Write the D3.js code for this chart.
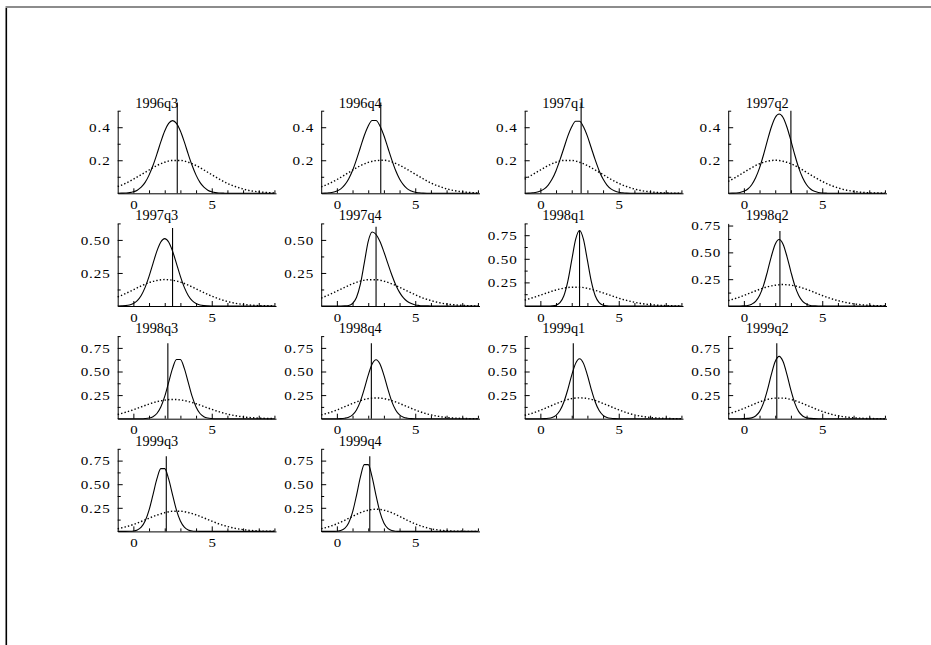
<!DOCTYPE html>
<html>
<head>
<meta charset="utf-8">
<script src="https://cdn.jsdelivr.net/npm/d3@7"></script>
<style>
html,body{margin:0;padding:0;background:#fff;}
svg{display:block;}
text{font-family:"Liberation Serif","Times New Roman",serif;fill:#000;}
</style>
</head>
<body>
<svg id="chart" width="931" height="645"></svg>
<script>
// ---------------- data ----------------
const quarters = ["1996q3","1996q4","1997q1","1997q2","1997q3","1997q4","1998q1","1998q2","1998q3","1998q4","1999q1","1999q2","1999q3","1999q4"];
const actualValue = [2.8, 2.8, 2.6, 3.0, 2.5, 2.5, 2.5, 2.3, 2.2, 2.2, 2.1, 2.1, 2.1, 2.1];
const markerTop = [0.55, 0.55, 0.55, 0.50, 0.59, 0.60, 0.80, 0.70, 0.80, 0.80, 0.80, 0.80, 0.795, 0.795];
const yAxisMax = [0.5, 0.5, 0.5, 0.5, 0.625, 0.625, 0.875, 0.77, 0.875, 0.875, 0.875, 0.875, 0.875, 0.875];

const xTickLabels = ["0", "5"];
const yTickLabelsSmall = ["0.2", "0.4"];
const yTickLabelsLarge = ["0.25", "0.50", "0.75"];

const solidGrid = [-1,-0.75,-0.5,-0.25,0,0.25,0.5,0.75,1,1.25,1.5,1.75,2,2.25,2.5,2.75,3,3.25,3.5,3.75,4,4.25,4.5,4.75,5,5.25,5.5,5.75,6,6.25,6.5,6.75,7,7.25,7.5,7.75,8,8.25,8.5,8.75,9];
const dottedGrid = [-1,-0.5,0,0.5,1,1.5,2,2.5,3,3.5,4,4.5,5,5.5,6,6.5,7,7.5,8,8.5,9];

// solid densities (values at solidGrid)
const solid1996q3 = [0,0.001,0.002,0.004,0.009,0.019,0.037,0.066,0.110,0.168,0.237,0.311,0.377,0.423,0.44,0.423,0.377,0.311,0.237,0.168,0.110,0.066,0.037,0.019,0.009,0.004,0.002,0.001,0,0,0,0,0,0,0,0,0,0,0,0,0];
const solid1996q4 = [0,0.001,0.003,0.006,0.014,0.027,0.051,0.087,0.138,0.204,0.277,0.350,0.408,0.441,0.441,0.408,0.350,0.277,0.204,0.138,0.087,0.051,0.027,0.014,0.006,0.003,0.001,0,0,0,0,0,0,0,0,0,0,0,0,0,0];
const solid1997q1 = [0,0.001,0.003,0.006,0.014,0.027,0.050,0.086,0.137,0.202,0.274,0.346,0.403,0.436,0.436,0.403,0.346,0.274,0.202,0.137,0.086,0.050,0.027,0.014,0.006,0.003,0.001,0,0,0,0,0,0,0,0,0,0,0,0,0,0];
const solid1997q2 = [0,0.001,0.002,0.005,0.012,0.026,0.052,0.094,0.154,0.232,0.319,0.400,0.459,0.48,0.459,0.400,0.319,0.232,0.154,0.094,0.052,0.026,0.012,0.005,0.002,0.001,0,0,0,0,0,0,0,0,0,0,0,0,0,0,0];
const solid1997q3 = [0,0.001,0.003,0.008,0.019,0.041,0.080,0.141,0.224,0.321,0.415,0.484,0.51,0.484,0.415,0.321,0.224,0.141,0.080,0.041,0.019,0.008,0.003,0.001,0,0,0,0,0,0,0,0,0,0,0,0,0,0,0,0,0];
const solid1997q4 = [0,0,0,0,0,0,0.001,0.004,0.019,0.064,0.165,0.326,0.489,0.56,0.541,0.488,0.410,0.322,0.236,0.161,0.103,0.061,0.034,0.018,0.008,0.004,0.002,0.001,0,0,0,0,0,0,0,0,0,0,0,0,0];
const solid1998q1 = [0,0,0,0,0,0,0,0.002,0.009,0.035,0.108,0.260,0.485,0.706,0.80,0.706,0.485,0.260,0.108,0.035,0.009,0.002,0,0,0,0,0,0,0,0,0,0,0,0,0,0,0,0,0,0,0];
const solid1998q2 = [0,0,0,0,0.002,0.005,0.017,0.043,0.098,0.190,0.319,0.461,0.576,0.62,0.576,0.461,0.319,0.190,0.098,0.043,0.017,0.005,0.002,0,0,0,0,0,0,0,0,0,0,0,0,0,0,0,0,0,0];
const solid1998q3 = [0,0,0,0,0,0,0,0.002,0.007,0.021,0.055,0.123,0.236,0.385,0.533,0.627,0.627,0.533,0.385,0.236,0.123,0.055,0.021,0.007,0.002,0,0,0,0,0,0,0,0,0,0,0,0,0,0,0,0];
const solid1998q4 = [0,0,0,0,0,0.001,0.005,0.015,0.040,0.093,0.184,0.315,0.461,0.579,0.625,0.579,0.461,0.315,0.184,0.093,0.040,0.015,0.005,0.001,0,0,0,0,0,0,0,0,0,0,0,0,0,0,0,0,0];
const solid1999q1 = [0,0,0,0,0,0.001,0.004,0.013,0.036,0.086,0.177,0.309,0.461,0.586,0.635,0.586,0.461,0.309,0.177,0.086,0.036,0.013,0.004,0.001,0,0,0,0,0,0,0,0,0,0,0,0,0,0,0,0,0];
const solid1999q2 = [0,0,0,0,0.001,0.003,0.009,0.029,0.075,0.165,0.302,0.467,0.605,0.66,0.605,0.467,0.302,0.165,0.075,0.029,0.009,0.003,0.001,0,0,0,0,0,0,0,0,0,0,0,0,0,0,0,0,0,0];
const solid1999q3 = [0,0,0,0.001,0.004,0.015,0.045,0.110,0.226,0.388,0.556,0.665,0.665,0.556,0.388,0.226,0.110,0.045,0.015,0.004,0.001,0,0,0,0,0,0,0,0,0,0,0,0,0,0,0,0,0,0,0,0];
const solid1999q4 = [0,0,0,0,0.002,0.009,0.032,0.089,0.204,0.380,0.575,0.707,0.707,0.575,0.380,0.204,0.089,0.032,0.009,0.002,0,0,0,0,0,0,0,0,0,0,0,0,0,0,0,0,0,0,0,0,0];

// dotted densities (values at dottedGrid)
const dotted1996q3 = [0.041,0.060,0.085,0.113,0.141,0.168,0.188,0.199,0.199,0.188,0.168,0.141,0.113,0.085,0.060,0.041,0.026,0.015,0.009,0.005,0.002];
const dotted1996q4 = [0.039,0.058,0.083,0.111,0.140,0.167,0.187,0.198,0.200,0.190,0.170,0.144,0.116,0.088,0.062,0.043,0.027,0.016,0.009,0.005,0.002];
const dotted1997q1 = [0.085,0.113,0.141,0.168,0.188,0.199,0.199,0.188,0.168,0.141,0.113,0.085,0.060,0.041,0.026,0.015,0.009,0.005,0.002,0.001,0.001];
const dotted1997q2 = [0.072,0.098,0.127,0.155,0.179,0.194,0.200,0.194,0.179,0.155,0.127,0.098,0.072,0.050,0.033,0.020,0.012,0.006,0.003,0.002,0.001];
const dotted1997q3 = [0.068,0.094,0.123,0.152,0.177,0.193,0.200,0.195,0.181,0.158,0.130,0.101,0.075,0.052,0.034,0.021,0.012,0.007,0.003,0.002,0.001];
const dotted1997q4 = [0.060,0.085,0.113,0.141,0.168,0.188,0.199,0.199,0.188,0.168,0.141,0.113,0.085,0.060,0.041,0.026,0.015,0.009,0.005,0.002,0.001];
const dotted1998q1 = [0.062,0.087,0.115,0.143,0.170,0.189,0.199,0.199,0.187,0.166,0.139,0.111,0.083,0.059,0.040,0.025,0.015,0.008,0.004,0.002,0.001];
const dotted1998q2 = [0.050,0.072,0.098,0.127,0.155,0.179,0.194,0.200,0.194,0.179,0.155,0.127,0.098,0.072,0.050,0.033,0.020,0.012,0.006,0.003,0.002];
const dotted1998q3 = [0.045,0.068,0.095,0.125,0.155,0.180,0.197,0.204,0.199,0.183,0.158,0.129,0.099,0.072,0.049,0.032,0.019,0.011,0.006,0.003,0.001];
const dotted1998q4 = [0.040,0.063,0.093,0.127,0.161,0.192,0.213,0.220,0.213,0.192,0.161,0.127,0.093,0.063,0.040,0.024,0.013,0.007,0.003,0.001,0.001];
const dotted1999q1 = [0.036,0.059,0.089,0.124,0.159,0.191,0.213,0.221,0.214,0.193,0.162,0.128,0.094,0.064,0.040,0.024,0.013,0.007,0.003,0.001,0.001];
const dotted1999q2 = [0.051,0.077,0.109,0.144,0.177,0.204,0.218,0.218,0.204,0.177,0.144,0.109,0.077,0.051,0.031,0.018,0.010,0.005,0.002,0.001,0.000];
const dotted1999q3 = [0.028,0.048,0.073,0.105,0.140,0.172,0.198,0.213,0.214,0.200,0.175,0.143,0.109,0.077,0.052,0.032,0.019,0.010,0.005,0.002,0.001];
const dotted1999q4 = [0.028,0.050,0.080,0.118,0.159,0.198,0.225,0.235,0.225,0.198,0.159,0.118,0.080,0.050,0.028,0.015,0.007,0.003,0.001,0.000,0.000];

const solidSeries = [solid1996q3,solid1996q4,solid1997q1,solid1997q2,solid1997q3,solid1997q4,solid1998q1,solid1998q2,solid1998q3,solid1998q4,solid1999q1,solid1999q2,solid1999q3,solid1999q4];
const dottedSeries = [dotted1996q3,dotted1996q4,dotted1997q1,dotted1997q2,dotted1997q3,dotted1997q4,dotted1998q1,dotted1998q2,dotted1998q3,dotted1998q4,dotted1999q1,dotted1999q2,dotted1999q3,dotted1999q4];

// ---------------- layout ----------------
const W = 931, H = 645;
const plotW = 158.3, plotH = 82.6;
const colStep = 203.5, rowStep = 112.7;
const left0 = 117.7, base0 = 193.3;
const xDomain = [-1, 9.1];
const FONT = 13.5;

const svg = d3.select("#chart");
svg.append("rect").attr("width", W).attr("height", H).attr("fill", "#fff");
// window-like frame (top grey, left black)
svg.append("rect").attr("x", 5.5).attr("y", 6).attr("width", W - 5.5).attr("height", 2).attr("fill", "#8c8c8c");
svg.append("rect").attr("x", 5.5).attr("y", 8).attr("width", 1.6).attr("height", H - 8).attr("fill", "#000");

function stretch(sel, sx) {
  sel.each(function () {
    const t = d3.select(this);
    const x = +t.attr("x") || 0, y = +t.attr("y") || 0;
    t.attr("x", 0).attr("y", 0).attr("transform", `translate(${x},${y}) scale(${sx},1)`);
  });
}

quarters.forEach((q, i) => {
  const c = i % 4, r = Math.floor(i / 4);
  const g = svg.append("g").attr("transform", `translate(${left0 + c * colStep},${base0 + r * rowStep - plotH})`);
  const x = d3.scaleLinear().domain(xDomain).range([0, plotW]);
  const y = d3.scaleLinear().domain([0, yAxisMax[i]]).range([plotH, 0]);

  const small = yAxisMax[i] <= 0.5;
  const yLabels = (small ? yTickLabelsSmall : yTickLabelsLarge).filter(s => +s <= yAxisMax[i] + 1e-9);
  const yMinor = (small ? [0.1, 0.3, 0.5] : [0.125, 0.375, 0.625, 0.875]).filter(v => v <= yAxisMax[i] + 1e-9);

  // x axis
  const xMajor = g.append("g").attr("transform", `translate(0,${plotH})`)
    .call(d3.axisBottom(x).tickValues(xTickLabels.map(Number)).tickFormat((d, k) => xTickLabels[k])
      .tickSize(-5).tickSizeOuter(0).tickPadding(6));
  xMajor.selectAll("text").attr("font-size", FONT).attr("font-family", null).call(stretch, 1.1);
  g.append("g").attr("transform", `translate(0,${plotH})`)
    .call(d3.axisBottom(x).tickValues([1, 2, 3, 4, 6, 7, 8, 9]).tickFormat("").tickSize(-3).tickSizeOuter(0))
    .select(".domain").remove();

  // y axis
  const yMajor = g.append("g")
    .call(d3.axisLeft(y).tickValues(yLabels.map(Number)).tickFormat((d, k) => yLabels[k])
      .tickSize(-5).tickSizeOuter(0).tickPadding(7));
  yMajor.selectAll("text").attr("font-size", FONT).attr("font-family", null).attr("letter-spacing", 0.8).call(stretch, 1.12);
  g.append("g")
    .call(d3.axisLeft(y).tickValues(yMinor).tickFormat("").tickSize(-3).tickSizeOuter(0))
    .select(".domain").remove();

  g.selectAll(".domain").attr("stroke", "#000").attr("stroke-width", 1);
  g.selectAll(".tick line").attr("stroke", "#000").attr("stroke-width", 1);

  // curves
  const line = d3.line().x(d => x(d[0])).y(d => y(d[1])).curve(d3.curveMonotoneX);
  g.append("path")
    .datum(dottedGrid.map((v, k) => [v, dottedSeries[i][k]]))
    .attr("d", line).attr("fill", "none").attr("stroke", "#000")
    .attr("stroke-width", 1.4).attr("stroke-dasharray", "1.4,2.1");
  g.append("path")
    .datum(solidGrid.map((v, k) => [v, solidSeries[i][k]]))
    .attr("d", line).attr("fill", "none").attr("stroke", "#000").attr("stroke-width", 1.1);

  // actual outcome marker
  g.append("line")
    .attr("x1", x(actualValue[i])).attr("x2", x(actualValue[i]))
    .attr("y1", y(0)).attr("y2", y(markerTop[i]))
    .attr("stroke", "#000").attr("stroke-width", 1.1);

  // title
  g.append("text")
    .attr("x", x(0) + 2).attr("y", -3)
    .attr("font-size", 14)
    .text(q).call(stretch, 1.02);
});
</script>
</body>
</html>
